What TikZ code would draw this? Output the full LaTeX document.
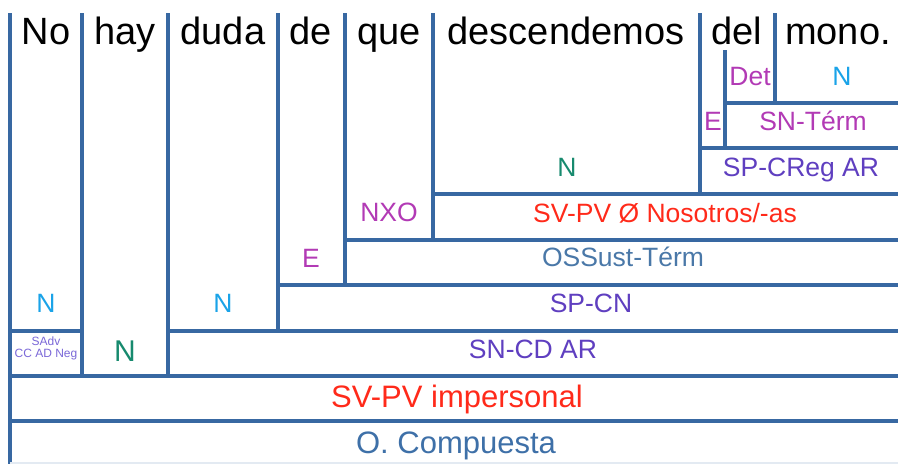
\documentclass[tikz,border=0pt]{standalone}
\usepackage{fontspec}
\setmainfont{Liberation Sans}
\definecolor{grid}{HTML}{3868A2}
\definecolor{cyanN}{HTML}{1AA3E8}
\definecolor{greenN}{HTML}{178A6E}
\definecolor{magentaL}{HTML}{B23AB5}
\definecolor{purpleL}{HTML}{5F3FC0}
\definecolor{redL}{HTML}{FF2A1A}
\definecolor{steelL}{HTML}{4A78A8}
\definecolor{compL}{HTML}{3E70A8}
\definecolor{lilac}{HTML}{7B68D8}
\definecolor{faint}{HTML}{E3EAF2}
\begin{document}
\begin{tikzpicture}[x=1pt,y=-1pt,
  gridline/.style={draw=grid,line width=3.2pt},
  word/.style={anchor=base,inner sep=0pt,font=\fontsize{38}{40}\selectfont,text=black},
  lab/.style={anchor=base,inner sep=0pt,font=\fontsize{26.5}{28}\selectfont},
  big/.style={anchor=base,inner sep=0pt,font=\fontsize{31}{33}\selectfont},
  tiny/.style={anchor=base,inner sep=0pt,font=\fontsize{12}{12}\selectfont,text=lilac}]
\useasboundingbox (0,0) rectangle (898,464);
\fill[white] (0,0) rectangle (898,464);
% vertical lines
\draw[gridline] (10,13) -- (10,464);
\draw[gridline] (82,13) -- (82,376);
\draw[gridline] (168,13) -- (168,376);
\draw[gridline] (278,13) -- (278,331);
\draw[gridline] (345,13) -- (345,285);
\draw[gridline] (433,13) -- (433,240);
\draw[gridline] (700,13) -- (700,194);
\draw[gridline] (725,50) -- (725,148);
\draw[gridline] (775,13) -- (775,103);
% horizontal lines
\draw[gridline] (725,103) -- (898,103);
\draw[gridline] (700,148) -- (898,148);
\draw[gridline] (433,194) -- (898,194);
\draw[gridline] (345,240) -- (898,240);
\draw[gridline] (278,285) -- (898,285);
\draw[gridline] (168,331) -- (898,331);
\draw[gridline] (10,331) -- (82,331);
\draw[gridline] (10,376) -- (898,376);
\draw[gridline] (10,421) -- (898,421);
\draw[faint,line width=1.5pt] (10,463) -- (898,463);
% words
\node[word] (w1) at (46,44) {No};
\node[word] (w2) at (125,44) {hay};
\node[word] (w3) at (223,44) {duda};
\node[word] (w4) at (311,44) {de};
\node[word] (w5) at (389,44) {que};
\node[word] (w6) at (566,44) {descendemos};
\node[word] (w7) at (737,44) {del};
\node[word] (w8) at (838,44) {mono.};
% labels
\node[lab,text=magentaL] (det) at (750,85) {Det};
\node[lab,text=cyanN] (nmono) at (842,85) {N};
\node[lab,text=magentaL] (edel) at (713,130) {E};
\node[lab,text=magentaL] (snterm) at (813,130) {SN-Térm};
\node[lab,text=purpleL] (spcreg) at (801,176) {SP-CReg AR};
\node[lab,text=greenN] (ndesc) at (567,176) {N};
\node[lab,text=redL] (svpv) at (665,222) {SV-PV Ø Nosotros/-as};
\node[lab,text=magentaL] (nxo) at (389,221) {NXO};
\node[lab,text=steelL] (ossust) at (623,266) {OSSust-Térm};
\node[lab,text=magentaL] (ede) at (311,267) {E};
\node[lab,text=purpleL] (spcn) at (591,312) {SP-CN};
\node[lab,text=cyanN] (nduda) at (223,312) {N};
\node[lab,text=cyanN] (nno) at (46,312) {N};
\node[lab,text=purpleL] (sncd) at (533,358) {SN-CD AR};
\node[big,text=greenN,font=\fontsize{30}{32}\selectfont] (nhay) at (125,361) {N};
\node[tiny] (sadv) at (46,345) {SAdv};
\node[tiny] (ccad) at (46,357) {CC AD Neg};
\node[big,text=redL] (svimp) at (457,407) {SV-PV impersonal};
\node[big,text=compL] (ocomp) at (456,453) {O. Compuesta};
\end{tikzpicture}
\end{document}
